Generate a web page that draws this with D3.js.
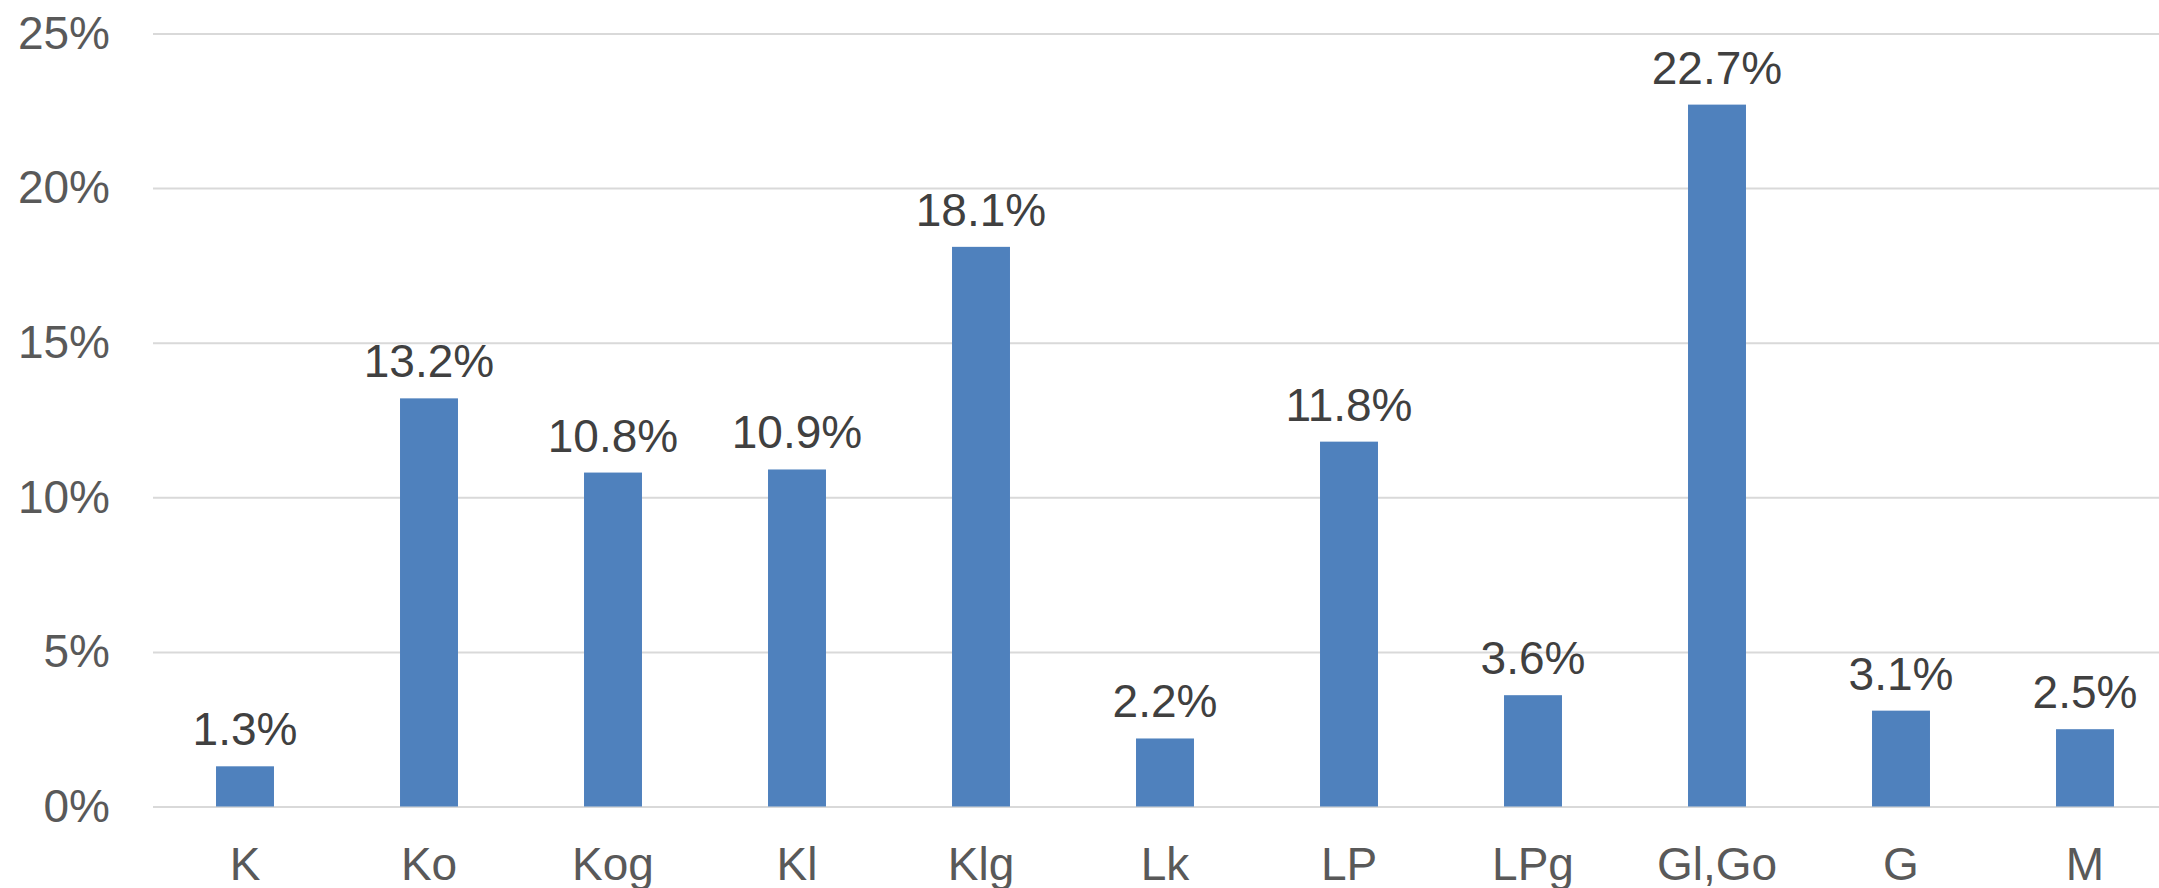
<!DOCTYPE html>
<html>
<head>
<meta charset="utf-8">
<script src="https://cdn.jsdelivr.net/npm/d3@7"></script>
<style>
  body { margin: 0; background: #fff; }
  .chart text { font-family: "Liberation Sans", Arial, sans-serif; }
</style>
</head>
<body>
<div class="chart"></div>
<script>
// data
var categories = ["K", "Ko", "Kog", "Kl", "Klg", "Lk", "LP", "LPg", "Gl,Go", "G", "M"];
var shares = [1.3, 13.2, 10.8, 10.9, 18.1, 2.2, 11.8, 3.6, 22.7, 3.1, 2.5];
var yTicks = [0, 5, 10, 15, 20, 25];

var width = 2159, height = 888;
var margin = {top: 33.5, left: 153, bottom: 81.5};
var band = 184;

var svg = d3.select(".chart").append("svg")
    .attr("width", width)
    .attr("height", height);

var x = d3.scaleBand()
    .domain(categories)
    .range([margin.left, margin.left + band * categories.length])
    .paddingInner(0.685)
    .paddingOuter(0.3425);

var y = d3.scaleLinear()
    .domain([0, 25])
    .range([height - margin.bottom, margin.top]);

// y axis with gridlines
var yAxis = d3.axisLeft(y)
    .tickValues(yTicks)
    .tickFormat(function(d) { return d + "%"; })
    .tickSize(-(width - margin.left))
    .tickPadding(43);

var gy = svg.append("g")
    .attr("transform", "translate(" + margin.left + ",0)")
    .call(yAxis);
gy.select(".domain").remove();
gy.selectAll(".tick line").attr("stroke", "#d9d9d9").attr("stroke-width", 2);
gy.selectAll(".tick text")
    .attr("fill", "#595959")
    .style("font-size", "46px");

// bars
svg.selectAll("rect.bar")
    .data(shares)
    .enter()
    .append("rect")
    .attr("class", "bar")
    .attr("x", function(d, i) { return x(categories[i]); })
    .attr("width", x.bandwidth())
    .attr("y", function(d) { return y(d); })
    .attr("height", function(d) { return y(0) - y(d); })
    .attr("fill", "#4f81bd");

// value labels
svg.selectAll("text.val")
    .data(shares)
    .enter()
    .append("text")
    .attr("class", "val")
    .attr("x", function(d, i) { return x(categories[i]) + x.bandwidth() / 2; })
    .attr("y", function(d) { return y(d) - 21; })
    .attr("text-anchor", "middle")
    .attr("fill", "#404040")
    .style("font-size", "46px")
    .text(function(d) { return d.toFixed(1) + "%"; });

// category axis
var xAxis = d3.axisBottom(x)
    .tickSize(0)
    .tickPadding(41);

var gx = svg.append("g")
    .attr("transform", "translate(0," + y(0) + ")")
    .call(xAxis);
gx.select(".domain").remove();
gx.selectAll(".tick text")
    .attr("fill", "#595959")
    .style("font-size", "46px");
</script>
</body>
</html>
